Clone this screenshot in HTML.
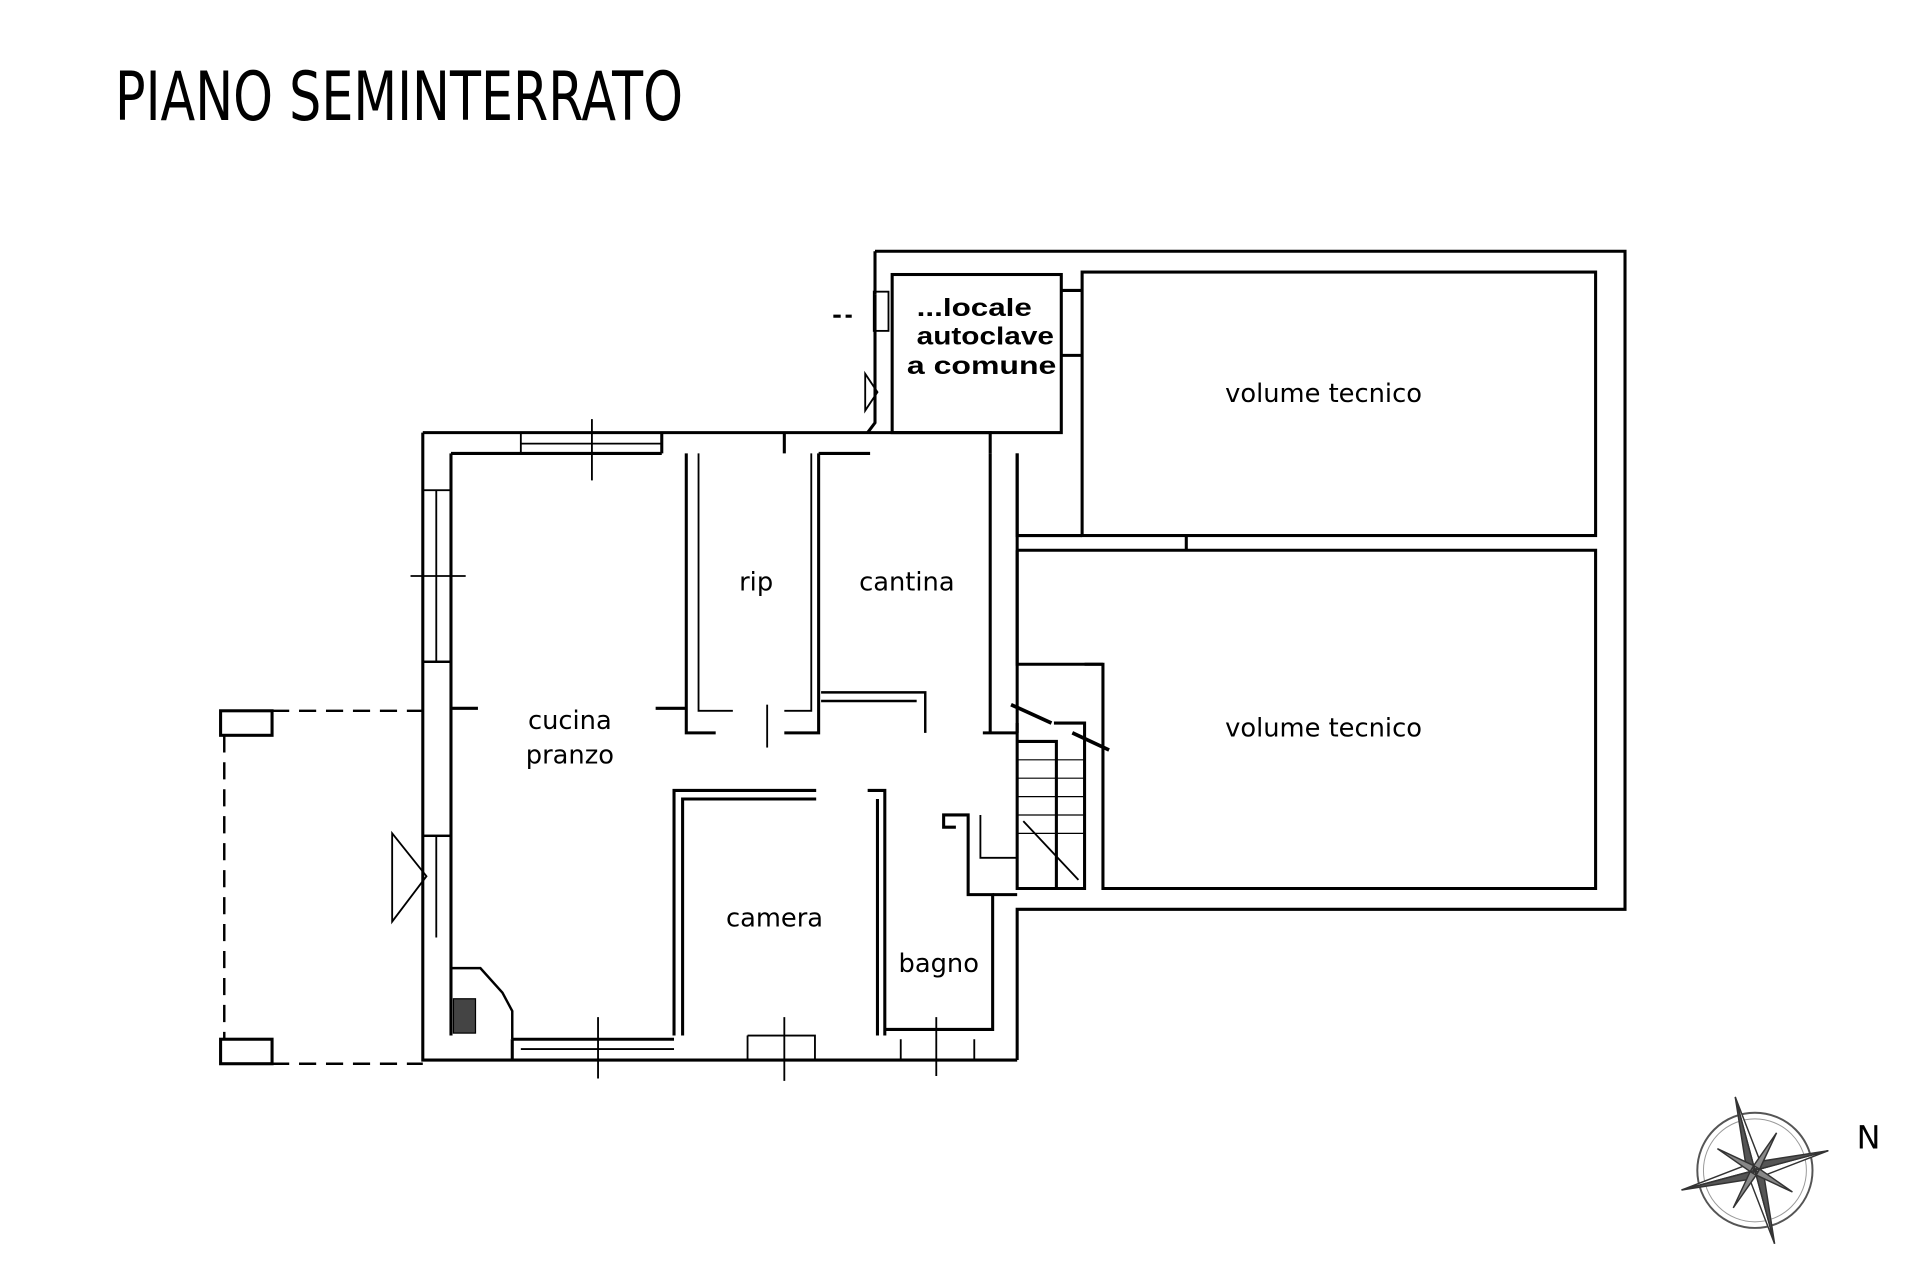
<!DOCTYPE html>
<html><head><meta charset="utf-8"><style>
html,body{margin:0;padding:0;background:#fff;width:1920px;height:1280px;overflow:hidden}
svg{display:block}
</style></head><body>
<svg width="1920" height="1280" viewBox="0 0 1920 1280" xmlns="http://www.w3.org/2000/svg">
<rect width="1920" height="1280" fill="#fff"/>
<text x="115" y="120" font-family="DejaVu Sans, Liberation Sans, sans-serif" font-size="68" textLength="568" lengthAdjust="spacingAndGlyphs" fill="#000">PIANO SEMINTERRATO</text>
<g transform="scale(1.2255)">
<g fill="none" stroke="#000" stroke-width="2.5">
<path d="M714 205 L1326 205 L1326 742 L830 742 L830 865"/>
<path d="M714 205 L714 240"/>
<rect x="883" y="222" width="419" height="215"/>
<path d="M830 370 L830 437 L883 437"/>
<path d="M830 449 L1302 449 L1302 725 L900 725 L900 542 L830 542 L830 449"/>
<path d="M968 437 L968 449"/>
<rect x="728" y="224" width="138" height="129"/>
<path d="M866 237 L883 237 M866 290 L883 290"/>
<path d="M714 240 L714 345 L708 353"/>
<rect x="713" y="238" width="12" height="32" stroke-width="1.5"/>
<path d="M706 305 L716 320 L706 335 Z" stroke-width="1.5"/>
<path d="M680 258 L695 258" stroke-dasharray="6 4"/>
<path d="M345 353 L808 353 L808 370"/>
<path d="M345 353 L345 865 L830 865"/>
<path d="M368 370 L368 845"/>
<path d="M368 370 L540 370 M540 353 L540 370"/>
<path d="M668 370 L710 370 M640 353 L640 370"/>
<path d="M425 362 L540 362 M425 370 L425 353" stroke-width="1.5"/>
<path d="M483 342 L483 392" stroke-width="1.5"/>
<path d="M808 370 L808 598 M830 370 L830 598"/>
<rect x="345" y="400" width="23" height="140" stroke-width="1.5"/>
<path d="M356 400 L356 540" stroke-width="1.5"/>
<path d="M335 470 L380 470" stroke-width="1.5"/>
<rect x="345" y="540" width="23" height="142" stroke-width="2"/>
<path d="M356 682 L356 765" stroke-width="1.5"/>
<path d="M320 680 L348 715 L320 752 Z" stroke-width="1.5"/>
<path d="M368 578 L390 578"/>
<path d="M368 790 L392 790 L410 810 L418 825 L418 848" stroke-width="2"/>
<rect x="370" y="815" width="18" height="28" fill="#444" stroke-width="1"/>
<path d="M418 848 L550 848 M418 865 L418 848"/>
<path d="M425 856 L550 856" stroke-width="1.5"/>
<path d="M488 830 L488 880 M640 830 L640 882 M764 830 L764 878" stroke-width="1.5"/>
<path d="M610 845 L665 845 L665 865 M610 845 L610 865" stroke-width="1.5"/>
<path d="M735 848 L735 865 M795 848 L795 865" stroke-width="1.5"/>
<path d="M560 370 L560 598 L584 598 M668 370 L668 598 L640 598"/>
<path d="M570 370 L570 580 L598 580 M662 370 L662 580 L640 580" stroke-width="1.5"/>
<path d="M535 578 L560 578"/>
<path d="M626 575 L626 610" stroke-width="1.5"/>
<path d="M670 565 L755 565 L755 598 M670 572 L748 572" stroke-width="2"/>
<path d="M802 598 L830 598"/>
<path d="M550 845 L550 645 L666 645 M557 845 L557 652 L666 652"/>
<path d="M708 645 L722 645 L722 845 M716 652 L716 845"/>
<path d="M722 840 L810 840 L810 730 L790 730 L790 665 L770 665 L770 675 L780 675"/>
<path d="M810 730 L830 730"/>
<path d="M830 590 L830 725 L885 725 L885 590 L860 590"/>
<path d="M830 605 L862 605 L862 725"/>
<path d="M830 620 L885 620 M830 635 L885 635 M830 650 L885 650 M830 665 L885 665 M830 680 L885 680" stroke-width="1"/>
<path d="M835 670 L880 718" stroke-width="1.5"/>
<path d="M800 665 L800 700 L830 700" stroke-width="1.5"/>
<path d="M825 575 L858 590 M875 598 L905 612" stroke-width="3"/>
<path d="M885 542 L900 542"/>
<path d="M222 580 L345 580 M183 600 L183 848 M222 868 L345 868" stroke-dasharray="14 8" stroke-width="2"/>
<rect x="180" y="580" width="42" height="20"/>
<rect x="180" y="848" width="42" height="20"/>
</g>
<g font-family="Liberation Sans, sans-serif" font-weight="bold" fill="#000" font-size="20">
<text x="748" y="258" textLength="94" lengthAdjust="spacingAndGlyphs">...locale</text>
<text x="748" y="281" textLength="112" lengthAdjust="spacingAndGlyphs">autoclave</text>
<text x="740" y="305" textLength="122" lengthAdjust="spacingAndGlyphs">a  comune</text>
</g>
<g font-family="DejaVu Sans, sans-serif" font-size="21" fill="#000" text-anchor="middle">
<text x="1080" y="328">volume tecnico</text>
<text x="1080" y="601">volume tecnico</text>
<text x="617" y="482">rip</text>
<text x="740" y="482">cantina</text>
<text x="465" y="595">cucina</text>
<text x="465" y="623">pranzo</text>
<text x="632" y="756">camera</text>
<text x="766" y="793">bagno</text>
</g>
<g transform="translate(1432,955)" stroke="#333" stroke-width="1.2">
<circle r="47" fill="none" stroke="#555" stroke-width="1.6"/>
<circle r="42" fill="none" stroke="#999" stroke-width="0.8"/>
<g transform="rotate(-15)">
<path d="M0 -62 L6 -6 L0 0 Z" fill="#fff"/><path d="M0 -62 L-6 -6 L0 0 Z" fill="#555"/>
<path d="M0 62 L-6 6 L0 0 Z" fill="#fff"/><path d="M0 62 L6 6 L0 0 Z" fill="#555"/>
<path d="M62 0 L6 6 L0 0 Z" fill="#fff"/><path d="M62 0 L6 -6 L0 0 Z" fill="#555"/>
<path d="M-62 0 L-6 -6 L0 0 Z" fill="#fff"/><path d="M-62 0 L-6 6 L0 0 Z" fill="#555"/>
<path d="M25 -25 L4 0 L0 -4 Z M-25 25 L-4 0 L0 4 Z M25 25 L0 4 L4 0 Z M-25 -25 L0 -4 L-4 0 Z" fill="#888"/>
</g>
</g>
<text x="1515" y="937" font-family="DejaVu Sans, sans-serif" font-size="26" fill="#000">N</text>
</g>
</svg>
</body></html>
